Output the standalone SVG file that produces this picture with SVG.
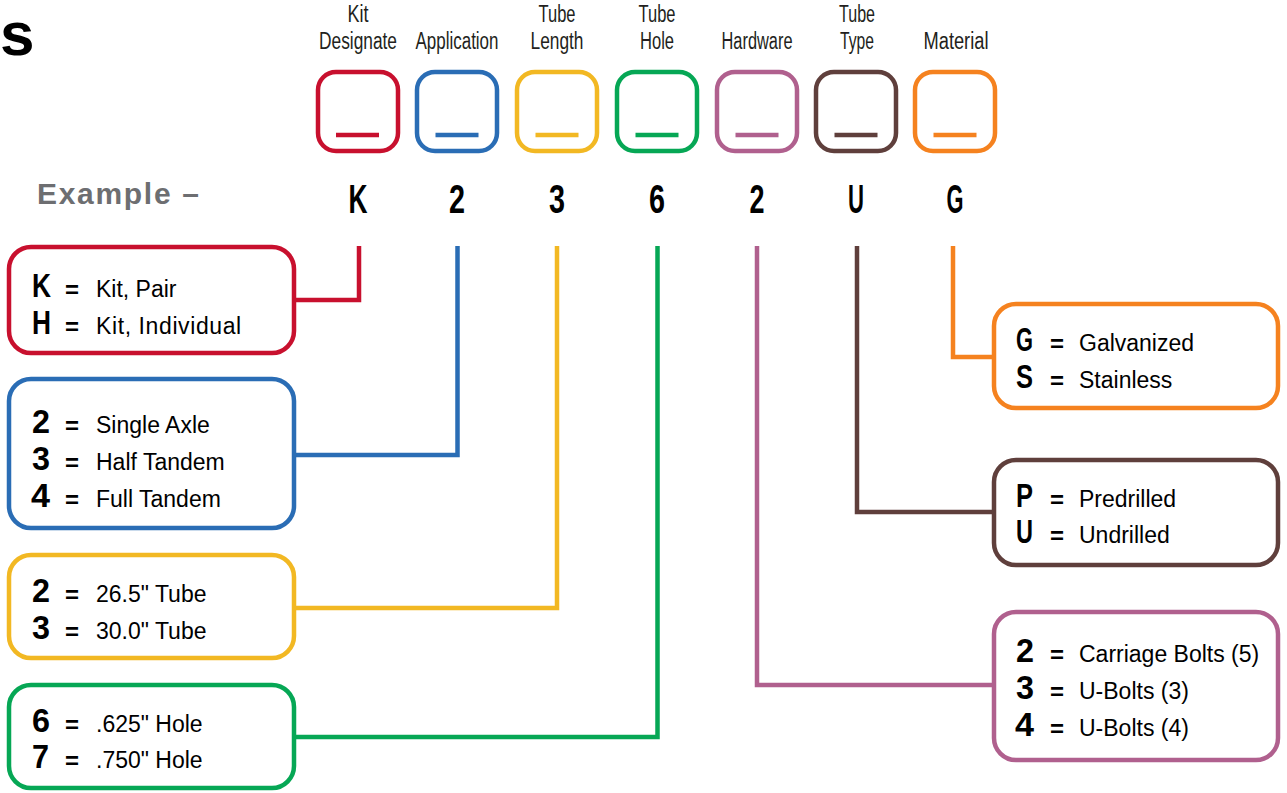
<svg xmlns="http://www.w3.org/2000/svg" width="1287" height="793" viewBox="0 0 1287 793">
<style>
.hdr{font-family:"Liberation Sans",Arial,sans-serif;font-size:23px;fill:#231f20;text-anchor:middle}
.ex{font-family:"Liberation Sans",Arial,sans-serif;font-weight:bold;font-size:41px;fill:#000;text-anchor:middle}
.slot{fill:#fff;stroke-width:4.5}
.ul{stroke-width:4.5}
.box{fill:#fff;stroke-width:4.5}
.k{font-family:"Liberation Sans",Arial,sans-serif;font-weight:bold;font-size:33px;fill:#000}
.eq{font-family:"Liberation Sans",Arial,sans-serif;font-weight:bold;font-size:24px;fill:#000}
.t{font-family:"Liberation Sans",Arial,sans-serif;font-size:23px;fill:#000}
.con path{fill:none;stroke-width:4.5;stroke-linejoin:miter;stroke-linecap:butt}
.red{stroke:#c8102e}.blue{stroke:#2a6db5}.yel{stroke:#f2b823}.grn{stroke:#06a755}.pur{stroke:#b0608e}.brn{stroke:#5f3f3c}.org{stroke:#f5821f}
</style>

<text x="0" y="55" style="font-family:'Liberation Sans',Arial,sans-serif;font-weight:900;font-size:62px;fill:#000">s</text>
<text x="37" y="204" textLength="162" lengthAdjust="spacing" style="font-family:'Liberation Sans',Arial,sans-serif;font-weight:bold;font-size:30px;fill:#6d6e71">Example –</text>

<g id="hdr-kit">
<text class="hdr" x="358" y="22" textLength="21" lengthAdjust="spacingAndGlyphs">Kit</text>
<text class="hdr" x="358" y="49" textLength="78" lengthAdjust="spacingAndGlyphs">Designate</text>
<rect class="slot red" x="318" y="72" width="80" height="79" rx="18"/>
<line class="ul red" x1="336" y1="135" x2="379" y2="135"/>
<text class="ex" x="358" y="213" textLength="19" lengthAdjust="spacingAndGlyphs">K</text>
</g>
<g id="hdr-app">
<text class="hdr" x="457" y="49" textLength="83" lengthAdjust="spacingAndGlyphs">Application</text>
<rect class="slot blue" x="417" y="72" width="80" height="79" rx="18"/>
<line class="ul blue" x1="435.5" y1="135" x2="478.5" y2="135"/>
<text class="ex" x="457" y="213" textLength="16" lengthAdjust="spacingAndGlyphs">2</text>
</g>
<g id="hdr-len">
<text class="hdr" x="557" y="22" textLength="37" lengthAdjust="spacingAndGlyphs">Tube</text>
<text class="hdr" x="557" y="49" textLength="53" lengthAdjust="spacingAndGlyphs">Length</text>
<rect class="slot yel" x="517" y="72" width="80" height="79" rx="18"/>
<line class="ul yel" x1="535.5" y1="135" x2="578.5" y2="135"/>
<text class="ex" x="557" y="213" textLength="16" lengthAdjust="spacingAndGlyphs">3</text>
</g>
<g id="hdr-hole">
<text class="hdr" x="657" y="22" textLength="37" lengthAdjust="spacingAndGlyphs">Tube</text>
<text class="hdr" x="657" y="49" textLength="34" lengthAdjust="spacingAndGlyphs">Hole</text>
<rect class="slot grn" x="617" y="72" width="80" height="79" rx="18"/>
<line class="ul grn" x1="635.5" y1="135" x2="678.5" y2="135"/>
<text class="ex" x="657" y="213" textLength="16" lengthAdjust="spacingAndGlyphs">6</text>
</g>
<g id="hdr-hw">
<text class="hdr" x="757" y="49" textLength="71" lengthAdjust="spacingAndGlyphs">Hardware</text>
<rect class="slot pur" x="717" y="72" width="80" height="79" rx="18"/>
<line class="ul pur" x1="735.5" y1="135" x2="778.5" y2="135"/>
<text class="ex" x="757" y="213" textLength="15" lengthAdjust="spacingAndGlyphs">2</text>
</g>
<g id="hdr-type">
<text class="hdr" x="857" y="22" textLength="36" lengthAdjust="spacingAndGlyphs">Tube</text>
<text class="hdr" x="857" y="49" textLength="34" lengthAdjust="spacingAndGlyphs">Type</text>
<rect class="slot brn" x="816" y="72" width="80" height="79" rx="18"/>
<line class="ul brn" x1="834.5" y1="135" x2="877.5" y2="135"/>
<text class="ex" x="856" y="213" textLength="16" lengthAdjust="spacingAndGlyphs">U</text>
</g>
<g id="hdr-mat">
<text class="hdr" x="956" y="49" textLength="65" lengthAdjust="spacingAndGlyphs">Material</text>
<rect class="slot org" x="915" y="72" width="80" height="79" rx="18"/>
<line class="ul org" x1="933.5" y1="135" x2="976.5" y2="135"/>
<text class="ex" x="955" y="213" textLength="17" lengthAdjust="spacingAndGlyphs">G</text>
</g>

<g id="connectors" class="con">
<path class="red" d="M359,246 V300 H294"/>
<path class="blue" d="M457.5,246 V455 H294"/>
<path class="yel" d="M557,246 V608 H294"/>
<path class="grn" d="M657.5,246 V737 H294"/>
<path class="pur" d="M757,246 V685 H994"/>
<path class="brn" d="M857,246 V512 H994"/>
<path class="org" d="M953,246 V357 H994"/>
</g>

<g id="box-kit">
<rect class="box red" x="9" y="247" width="285" height="106" rx="22"/>
<text class="k" x="32" y="297" textLength="19" lengthAdjust="spacingAndGlyphs">K</text>
<text class="eq" x="65" y="298">=</text>
<text class="t" x="96" y="297">Kit, Pair</text>
<text class="k" x="32" y="334" textLength="19" lengthAdjust="spacingAndGlyphs">H</text>
<text class="eq" x="65" y="335">=</text>
<text class="t" x="96" y="334" letter-spacing="0.6">Kit, Individual</text>
</g>
<g id="box-app">
<rect class="box blue" x="9" y="379" width="285" height="149" rx="22"/>
<text class="k" x="32" y="433" textLength="18" lengthAdjust="spacingAndGlyphs">2</text>
<text class="eq" x="65" y="434">=</text>
<text class="t" x="96" y="433">Single Axle</text>
<text class="k" x="32" y="470" textLength="18" lengthAdjust="spacingAndGlyphs">3</text>
<text class="eq" x="65" y="471">=</text>
<text class="t" x="96" y="470">Half Tandem</text>
<text class="k" x="31" y="507" textLength="19" lengthAdjust="spacingAndGlyphs">4</text>
<text class="eq" x="65" y="508">=</text>
<text class="t" x="96" y="507">Full Tandem</text>
</g>
<g id="box-len">
<rect class="box yel" x="9" y="555" width="285" height="103" rx="22"/>
<text class="k" x="32" y="602" textLength="18" lengthAdjust="spacingAndGlyphs">2</text>
<text class="eq" x="65" y="603">=</text>
<text class="t" x="96" y="602">26.5" Tube</text>
<text class="k" x="32" y="639" textLength="18" lengthAdjust="spacingAndGlyphs">3</text>
<text class="eq" x="65" y="640">=</text>
<text class="t" x="96" y="639">30.0" Tube</text>
</g>
<g id="box-hole">
<rect class="box grn" x="9" y="685" width="285" height="103" rx="22"/>
<text class="k" x="32" y="732" textLength="18" lengthAdjust="spacingAndGlyphs">6</text>
<text class="eq" x="65" y="733">=</text>
<text class="t" x="96" y="732">.625" Hole</text>
<text class="k" x="32" y="768" textLength="17" lengthAdjust="spacingAndGlyphs">7</text>
<text class="eq" x="65" y="769">=</text>
<text class="t" x="96" y="768">.750" Hole</text>
</g>
<g id="box-mat">
<rect class="box org" x="994" y="304" width="284" height="104" rx="22"/>
<text class="k" x="1016" y="351" textLength="17" lengthAdjust="spacingAndGlyphs">G</text>
<text class="eq" x="1050" y="352">=</text>
<text class="t" x="1079" y="351">Galvanized</text>
<text class="k" x="1016" y="388" textLength="17" lengthAdjust="spacingAndGlyphs">S</text>
<text class="eq" x="1050" y="389">=</text>
<text class="t" x="1079" y="388">Stainless</text>
</g>
<g id="box-type">
<rect class="box brn" x="994" y="460" width="284" height="105" rx="22"/>
<text class="k" x="1016" y="507" textLength="17" lengthAdjust="spacingAndGlyphs">P</text>
<text class="eq" x="1050" y="508">=</text>
<text class="t" x="1079" y="507">Predrilled</text>
<text class="k" x="1016" y="543" textLength="17" lengthAdjust="spacingAndGlyphs">U</text>
<text class="eq" x="1050" y="544">=</text>
<text class="t" x="1079" y="543">Undrilled</text>
</g>
<g id="box-hw">
<rect class="box pur" x="994" y="612" width="284" height="148" rx="22"/>
<text class="k" x="1016" y="662" textLength="18" lengthAdjust="spacingAndGlyphs">2</text>
<text class="eq" x="1050" y="663">=</text>
<text class="t" x="1079" y="662">Carriage Bolts (5)</text>
<text class="k" x="1016" y="699" textLength="18" lengthAdjust="spacingAndGlyphs">3</text>
<text class="eq" x="1050" y="700">=</text>
<text class="t" x="1079" y="699">U-Bolts (3)</text>
<text class="k" x="1015" y="736" textLength="19" lengthAdjust="spacingAndGlyphs">4</text>
<text class="eq" x="1050" y="737">=</text>
<text class="t" x="1079" y="736">U-Bolts (4)</text>
</g>
</svg>
